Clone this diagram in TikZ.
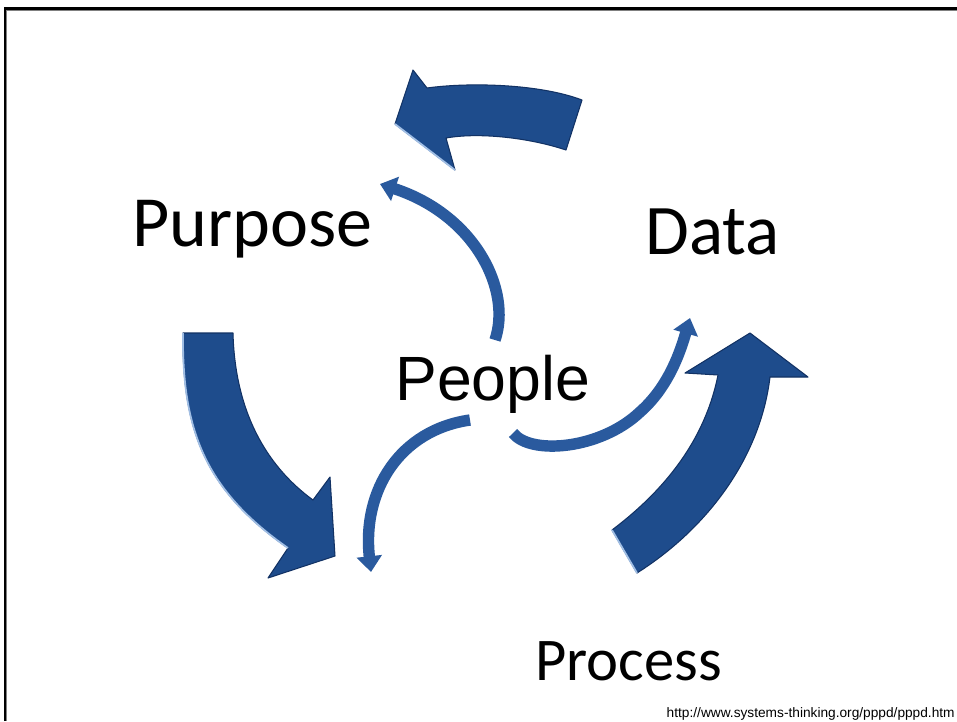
\documentclass[tikz,border=0pt]{standalone}
\usepackage{fontspec}
\setmainfont{Carlito}
\newfontfamily\arialfont{Liberation Sans}
\usetikzlibrary{arrows.meta}
\definecolor{arrowblue}{RGB}{30,76,140}
\definecolor{arrowdark}{RGB}{18,50,100}
\definecolor{thinblue}{RGB}{42,90,158}
\definecolor{glint}{RGB}{160,190,228}
\begin{document}
\begin{tikzpicture}[x=0.02cm,y=-0.02cm,
  bigarrow/.style={fill=arrowblue,draw=arrowdark,line width=0.6pt,line join=round},
  thinarrow/.style={draw=thinblue,line width=6.5pt,-{Triangle[length=9pt,width=14pt]}},
  word/.style={anchor=base west,inner sep=0pt,font=\fontsize{41}{48}\selectfont}]
\useasboundingbox (0,0) rectangle (957,721);
\fill[white] (0,0) rectangle (957,721);
\draw[black,line width=1.7pt] (5,721) -- (5,8.5) -- (957,8.5);
\draw[gray,line width=0.5pt] (6.8,721) -- (6.8,10.5) -- (957,10.5);
% big arrows
\draw[bigarrow] (582,100) .. controls (540,84) and (470,82) .. (427,88) -- (413,70) -- (395,124)
  -- (455,170) -- (446,138) .. controls (480,132) and (530,138) .. (566,150) -- cycle;
\draw[bigarrow] (183,333) -- (233,333) .. controls (235,410) and (265,465) .. (313,500) -- (330,477)
  -- (335,556) -- (268,578) -- (288,548) .. controls (205,490) and (182,430) .. (183,333) -- cycle;
\draw[bigarrow] (612,530) .. controls (665,490) and (705,440) .. (718,375) -- (685,373) -- (750,333)
  -- (808,377) -- (770,377) .. controls (760,460) and (705,530) .. (637,573) -- cycle;
\draw[glint,line width=1pt] (395,124) -- (455,170);
\draw[glint,line width=1pt] (288,548) .. controls (205,490) and (182,430) .. (183,333);
\draw[glint,line width=1pt] (612,530) -- (637,573);
% thin arrows
\draw[thinarrow] (495,340) .. controls (512,290) and (475,215) .. (380,184);
\draw[thinarrow] (470,420) .. controls (400,430) and (362,490) .. (371,572);
\draw[thinarrow] (513,433) .. controls (530,455) and (600,450) .. (640,412) .. controls (665,390) and (678,360) .. (690,318);
% labels
\node[word] (purpose) at (132,246) {Purpose};
\node[word,font=\fontsize{40.5}{48}\selectfont] (data) at (645,254) {Data};
\node[word,font=\fontsize{34.5}{42}\selectfont] (process) at (535,680) {Process};
\node[anchor=base west,inner sep=0pt,font=\arialfont\fontsize{35.6}{42}\selectfont] (people) at (395,400) {People};
\node[anchor=base east,inner sep=0pt,font=\arialfont\fontsize{7.8}{9}\selectfont] (url) at (955,717) {http://www.systems-thinking.org/pppd/pppd.htm};
\end{tikzpicture}
\end{document}
